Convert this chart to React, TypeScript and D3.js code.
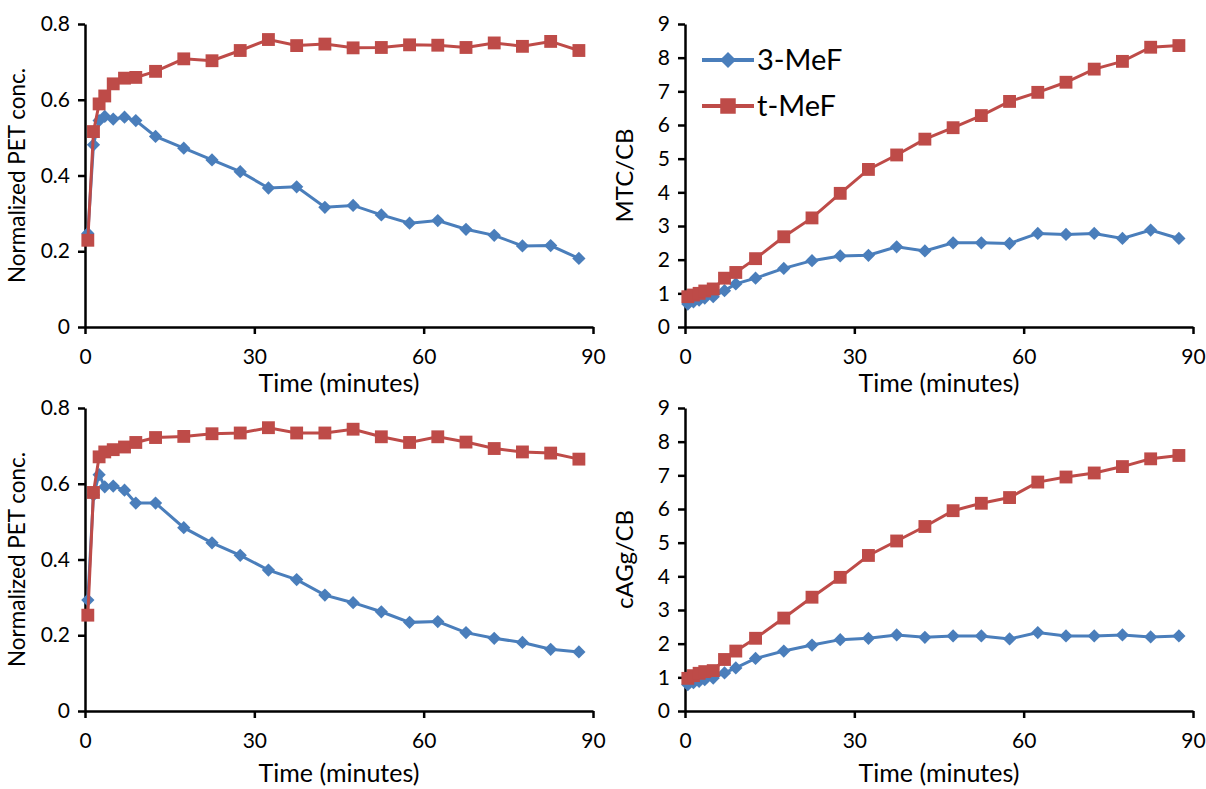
import React, { useRef, useEffect } from 'react';
import * as d3 from 'd3';

// sample times (minutes)
const times = [0.5, 1.5, 2.5, 3.5, 5, 7, 9, 12.5, 17.5, 22.5, 27.5, 32.5, 37.5, 42.5, 47.5, 52.5, 57.5, 62.5, 67.5, 72.5, 77.5, 82.5, 87.5];

const seriesNames = ['3-MeF', 't-MeF'];

// top left: normalized PET conc.
const petA3MeF = [0.247, 0.481, 0.545, 0.556, 0.549, 0.554, 0.545, 0.503, 0.472, 0.441, 0.41, 0.367, 0.37, 0.316, 0.321, 0.296, 0.274, 0.281, 0.258, 0.242, 0.214, 0.215, 0.181];
const petAtMeF = [0.229, 0.516, 0.589, 0.61, 0.642, 0.657, 0.659, 0.675, 0.708, 0.703, 0.73, 0.759, 0.743, 0.747, 0.737, 0.738, 0.745, 0.744, 0.738, 0.75, 0.741, 0.754, 0.73];

// top right: MTC/CB
const mtc3MeF = [0.68, 0.75, 0.8, 0.86, 0.9, 1.08, 1.28, 1.45, 1.74, 1.97, 2.11, 2.13, 2.38, 2.26, 2.5, 2.5, 2.48, 2.78, 2.75, 2.78, 2.63, 2.88, 2.63];
const mtctMeF = [0.9, 0.95, 1.0, 1.07, 1.13, 1.45, 1.62, 2.03, 2.68, 3.24, 3.97, 4.68, 5.11, 5.58, 5.92, 6.28, 6.7, 6.97, 7.27, 7.66, 7.89, 8.31, 8.36];

// bottom left: normalized PET conc.
const petB3MeF = [0.293, 0.57, 0.624, 0.592, 0.594, 0.583, 0.549, 0.549, 0.484, 0.444, 0.411, 0.372, 0.347, 0.306, 0.286, 0.262, 0.234, 0.236, 0.207, 0.192, 0.181, 0.163, 0.156];
const petBtMeF = [0.253, 0.577, 0.671, 0.684, 0.69, 0.697, 0.709, 0.722, 0.725, 0.732, 0.734, 0.748, 0.734, 0.734, 0.744, 0.724, 0.709, 0.724, 0.71, 0.693, 0.684, 0.681, 0.665];

// bottom right: cAGg/CB
const cag3MeF = [0.78, 0.84, 0.88, 0.93, 0.98, 1.13, 1.28, 1.56, 1.78, 1.96, 2.12, 2.16, 2.26, 2.19, 2.23, 2.23, 2.14, 2.33, 2.23, 2.23, 2.26, 2.2, 2.23];
const cagtMeF = [0.97, 1.05, 1.12, 1.17, 1.2, 1.53, 1.78, 2.16, 2.76, 3.38, 3.97, 4.62, 5.05, 5.48, 5.95, 6.17, 6.34, 6.8, 6.95, 7.07, 7.26, 7.49, 7.59];

const xTicks = [0, 30, 60, 90];
const petTicks = [0, 0.2, 0.4, 0.6, 0.8];
const ratioTicks = [0, 1, 2, 3, 4, 5, 6, 7, 8, 9];

const BLUE = '#4a7ebb';
const RED = '#be4b48';
const FONT = 'Lato, "Open Sans", sans-serif';

const panels = [
  { left: 85, top: 24, yTicks: petTicks, yLabel: 'Normalized PET conc.', labelOff: 68, labelSize: 22.5, titleOff: 56, blue: petA3MeF, red: petAtMeF, legend: false },
  { left: 685, top: 24, yTicks: ratioTicks, yLabel: 'MTC/CB', labelOff: 60, labelSize: 24, titleOff: 56, blue: mtc3MeF, red: mtctMeF, legend: true },
  { left: 85, top: 408, yTicks: petTicks, yLabel: 'Normalized PET conc.', labelOff: 68, labelSize: 22.5, titleOff: 62, blue: petB3MeF, red: petBtMeF, legend: false },
  { left: 685, top: 408, yTicks: ratioTicks, yLabel: 'cAGg/CB', labelOff: 60, labelSize: 24, titleOff: 62, blue: cag3MeF, red: cagtMeF, legend: false },
];

const App = () => {
  const svgRef = useRef<SVGSVGElement>(null);

  useEffect(() => {
    const svg = d3.select(svgRef.current);
    svg.selectAll('*').remove();

    const w = 508;
    const h = 303;

    panels.forEach((p) => {
      const g = svg.append('g').attr('transform', `translate(${p.left},${p.top})`);
      const yMax = p.yTicks[p.yTicks.length - 1];

      const x = d3.scaleLinear().domain([0, 90]).range([0, w]);
      const y = d3.scaleLinear().domain([0, yMax]).range([h, 0]);
      const fmt = yMax < 1 ? (d: number) => (d === 0 ? '0' : d3.format('.1f')(d)) : d3.format('d');

      // X axis
      const xa = g.append('g')
        .attr('transform', `translate(0,${h})`)
        .call(d3.axisBottom(x).tickValues(xTicks).tickSize(7).tickSizeOuter(0).tickPadding(15));
      // Y axis
      const ya = g.append('g')
        .call(d3.axisLeft(y).tickValues(p.yTicks).tickFormat(fmt as any).tickSize(7).tickSizeOuter(0).tickPadding(8));

      [xa, ya].forEach((a) => {
        a.select('.domain').attr('stroke', '#000').attr('stroke-width', 2.5);
        a.selectAll('.tick line').attr('stroke', '#000').attr('stroke-width', 2.5);
        a.selectAll('.tick text')
          .attr('fill', '#000')
          .style('font-family', FONT)
          .style('font-size', '21px');
      });

      // axis titles
      g.append('text')
        .attr('x', w / 2)
        .attr('y', h + p.titleOff)
        .attr('dy', '0.35em')
        .attr('text-anchor', 'middle')
        .style('font-family', FONT)
        .style('font-size', '25px')
        .attr('fill', '#000')
        .text('Time (minutes)');

      g.append('text')
        .attr('transform', `translate(${-p.labelOff},${h / 2}) rotate(-90)`)
        .attr('text-anchor', 'middle')
        .attr('dy', '0.35em')
        .style('font-family', FONT)
        .style('font-size', `${p.labelSize}px`)
        .attr('fill', '#000')
        .text(p.yLabel);

      const line = d3.line<number>()
        .x((_, i) => x(times[i]))
        .y((d) => y(d));

      const diamond = d3.symbol(d3.symbolSquare, 88)();
      const square = d3.symbol(d3.symbolSquare, 165)();

      // blue series (3-MeF)
      g.append('path')
        .datum(p.blue)
        .attr('fill', 'none')
        .attr('stroke', BLUE)
        .attr('stroke-width', 3)
        .attr('d', line);
      g.selectAll('.dia')
        .data(p.blue)
        .join('path')
        .attr('class', 'dia')
        .attr('d', diamond)
        .attr('fill', BLUE)
        .attr('transform', (d, i) => `translate(${x(times[i])},${y(d)}) rotate(45)`);

      // red series (t-MeF)
      g.append('path')
        .datum(p.red)
        .attr('fill', 'none')
        .attr('stroke', RED)
        .attr('stroke-width', 3)
        .attr('d', line);
      g.selectAll('.sq')
        .data(p.red)
        .join('path')
        .attr('class', 'sq')
        .attr('d', square)
        .attr('fill', RED)
        .attr('transform', (d, i) => `translate(${x(times[i])},${y(d)})`);

      if (p.legend) {
        const lg = g.append('g').attr('transform', 'translate(17,36)');
        seriesNames.forEach((name, i) => {
          const row = lg.append('g').attr('transform', `translate(0,${i * 46})`);
          const col = i === 0 ? BLUE : RED;
          row.append('line')
            .attr('x1', 0).attr('x2', 52)
            .attr('stroke', col)
            .attr('stroke-width', 4);
          row.append('path')
            .attr('d', d3.symbol(d3.symbolSquare, i === 0 ? 130 : 240)())
            .attr('fill', col)
            .attr('transform', `translate(26,0)${i === 0 ? ' rotate(45)' : ''}`);
          row.append('text')
            .attr('x', 55)
            .attr('dy', '0.36em')
            .style('font-family', FONT)
            .style('font-size', '29px')
            .attr('fill', '#000')
            .text(name);
        });
      }
    });
  }, []);

  return (
    <svg
      ref={svgRef}
      width={1206}
      height={789}
      style={{ position: 'absolute', left: 0, top: 0, background: '#fff' }}
    ></svg>
  );
};

export default App;
